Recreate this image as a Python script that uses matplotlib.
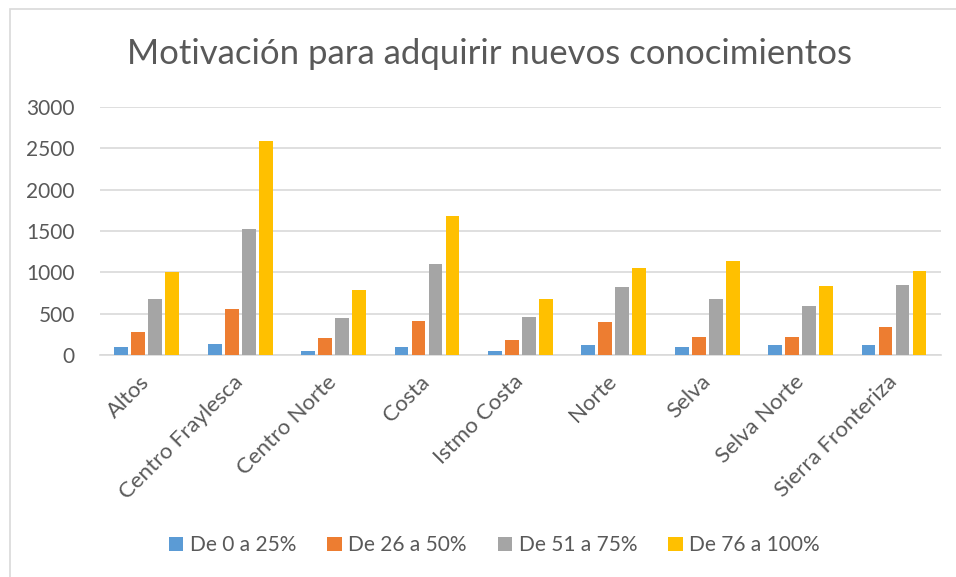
import numpy as np
import matplotlib.pyplot as plt
from matplotlib.patches import Rectangle

plt.rcParams['font.family'] = ['Lato', 'DejaVu Sans']

regiones = ["Altos", "Centro Fraylesca", "Centro Norte", "Costa", "Istmo Costa",
            "Norte", "Selva", "Selva Norte", "Sierra Fronteriza"]
series = ["De 0 a 25%", "De 26 a 50%", "De 51 a 75%", "De 76 a 100%"]
de_0_25 = [93, 129, 53, 101, 53, 121, 93, 117, 117]
de_26_50 = [279, 557, 202, 412, 178, 396, 222, 214, 339]
de_51_75 = [678, 1527, 448, 1099, 456, 820, 678, 590, 844]
de_76_100 = [1006, 2593, 788, 1680, 674, 1050, 1131, 836, 1018]
colores = ["#5b9bd5", "#ed7d31", "#a5a5a5", "#ffc000"]

fig = plt.figure(figsize=(9.56, 5.77), dpi=100)
ax = fig.add_axes([0.1046, 0.3847, 0.8794, 0.43])

# chart border
fig.patches.append(Rectangle((10/956, -0.1), 1.0, 1.0 - 9/577 + 0.1,
                             transform=fig.transFigure, fill=False,
                             edgecolor="#d9d9d9", linewidth=1.2))

x = np.arange(len(regiones))
step = 0.182
datos = [de_0_25, de_26_50, de_51_75, de_76_100]
for i, (vals, nombre, c) in enumerate(zip(datos, series, colores)):
    ax.bar(x + (i - 1.5) * step, vals, width=0.148, color=c, label=nombre,
           zorder=3)

ax.set_xlim(-0.5, len(regiones) - 0.5)
ax.set_ylim(0, 3000)
ax.set_yticks(np.arange(0, 3001, 500))
ax.yaxis.grid(True, color="#d9d9d9", linewidth=1.2, zorder=0)
for s in ["top", "right", "left"]:
    ax.spines[s].set_visible(False)
ax.spines["bottom"].set_color("#d9d9d9")
ax.spines["bottom"].set_linewidth(1.2)
ax.tick_params(axis="both", length=0, colors="#595959")
ax.tick_params(axis="y", pad=18, labelsize=15)
ax.tick_params(axis="x", pad=17, labelsize=16)
ax.set_xticks(x)
ax.set_xticklabels(regiones, rotation=45, ha="right", va="center",
                   rotation_mode="anchor")

fig.text(0.512, 0.907, "Motivación para adquirir nuevos conocimientos",
         ha="center", va="center", fontsize=25, color="#595959")

leg = fig.legend(loc="center", bbox_to_anchor=(0.517, 0.055), ncol=4,
                 frameon=False, fontsize=15, handlelength=0.7,
                 handleheight=0.7, handletextpad=0.3, columnspacing=1.5)
for t in leg.get_texts():
    t.set_color("#595959")

fig.savefig("out.png", dpi=100)
